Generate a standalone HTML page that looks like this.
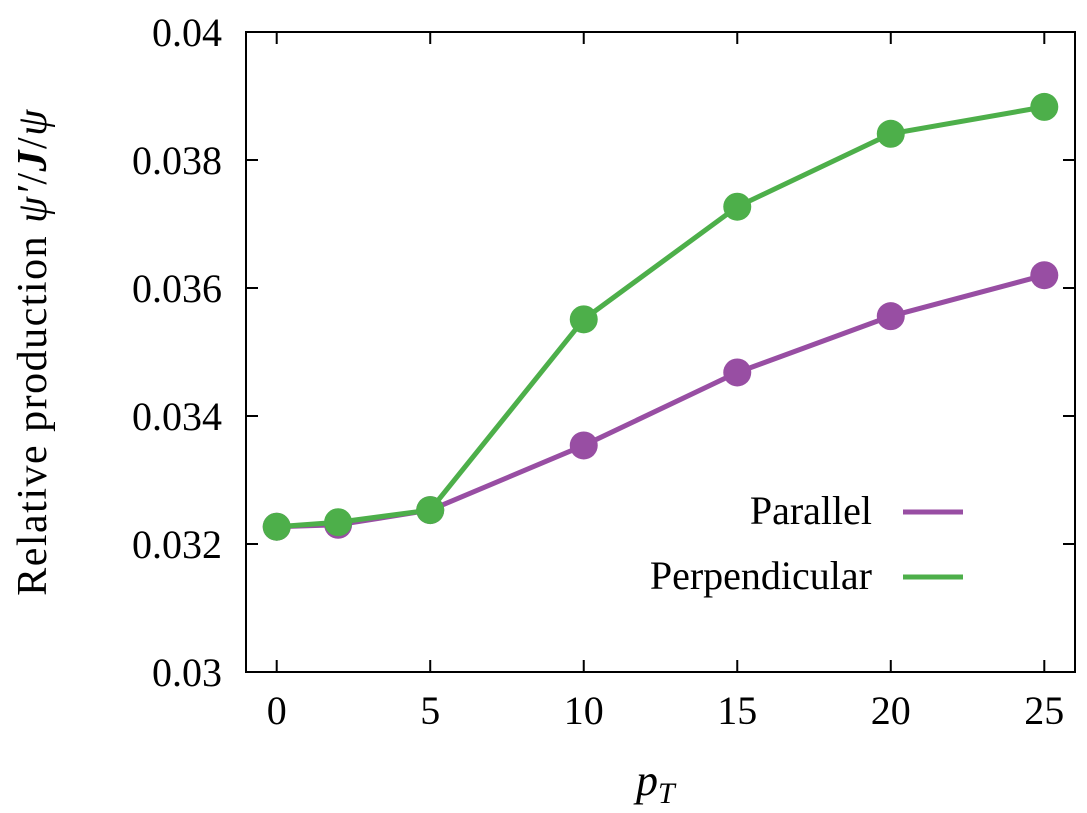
<!DOCTYPE html>
<html><head><meta charset="utf-8"><style>
body{margin:0;background:#fff;}
svg text{font-family:"Liberation Serif",serif;fill:#000;}
</style></head><body>
<svg id="chart" width="1087" height="808">
<g id="axes"></g><g id="series"></g>
<rect x="246" y="32" width="829" height="640" fill="none" stroke="#000" stroke-width="2"/>
<text transform="translate(46,352) rotate(-90)" text-anchor="middle" font-size="42" letter-spacing="1.5">Relative production  <tspan font-style="italic">ψ′</tspan>/<tspan font-style="italic" font-weight="bold">J</tspan>/<tspan font-style="italic">ψ</tspan></text>
<text x="636" y="795" font-size="44" font-style="italic">p<tspan font-size="30" dy="8">T</tspan></text>
<g>
<text x="872" y="524" text-anchor="end" font-size="40">Parallel</text>
<line x1="903" y1="512" x2="963" y2="512" stroke="#984ea3" stroke-width="5"/>
<text x="872" y="589" text-anchor="end" font-size="40">Perpendicular</text>
<line x1="903" y1="577" x2="963" y2="577" stroke="#4daf4a" stroke-width="5"/>
</g>
</svg>
<script>
const xs=[0,2,5,10,15,20,25];
const parallel=[0.03227,0.03230,0.03253,0.03354,0.03468,0.03556,0.03620];
const perpendicular=[0.03227,0.03234,0.03253,0.03551,0.03727,0.03841,0.03883];
const yTicks=[0.03,0.032,0.034,0.036,0.038,0.04];
const yTickLabels=["0.03","0.032","0.034","0.036","0.038","0.04"];
const xTicks=[0,5,10,15,20,25];
const NS="http://www.w3.org/2000/svg";
const X=v=>246+(v+1)/27*829, Y=v=>672-(v-0.03)/0.01*640;
function mk(t,a,p){const e=document.createElementNS(NS,t);for(const k in a)e.setAttribute(k,a[k]);p.appendChild(e);return e;}
const ax=document.getElementById('axes');
yTicks.forEach((v,i)=>{
 const l=mk('line',{x1:246,x2:258,y1:Y(v),y2:Y(v),stroke:'#000','stroke-width':2},ax);
 
 
 const r=mk('line',{x1:1063,x2:1075,y1:Y(v),y2:Y(v),stroke:'#000','stroke-width':2},ax);
 
 
 const t=mk('text',{x:222,y:Y(v)+14,'text-anchor':'end','font-size':40},ax);t.textContent=yTickLabels[i];
 
 
});
xTicks.forEach(v=>{
 const l=mk('line',{x1:X(v),x2:X(v),y1:672,y2:660,stroke:'#000','stroke-width':2},ax);
 
 
 const l2=mk('line',{x1:X(v),x2:X(v),y1:32,y2:44,stroke:'#000','stroke-width':2},ax);
 
 
 const t=mk('text',{x:X(v),y:724,'text-anchor':'middle','font-size':40},ax);t.textContent=v;
 
 
});
const sg=document.getElementById('series');
[[parallel,'#984ea3','parallel'],[perpendicular,'#4daf4a','perpendicular']].forEach(([d,c,n])=>{
 const p=mk('polyline',{points:xs.map((x,i)=>X(x)+','+Y(d[i])).join(' '),fill:'none',stroke:c,'stroke-width':5},sg);
 
 
 xs.forEach((x,i)=>{
  const m=mk('circle',{cx:X(x),cy:Y(d[i]),r:14,fill:c},sg);
  
  
 });
});
</script>
</body></html>
